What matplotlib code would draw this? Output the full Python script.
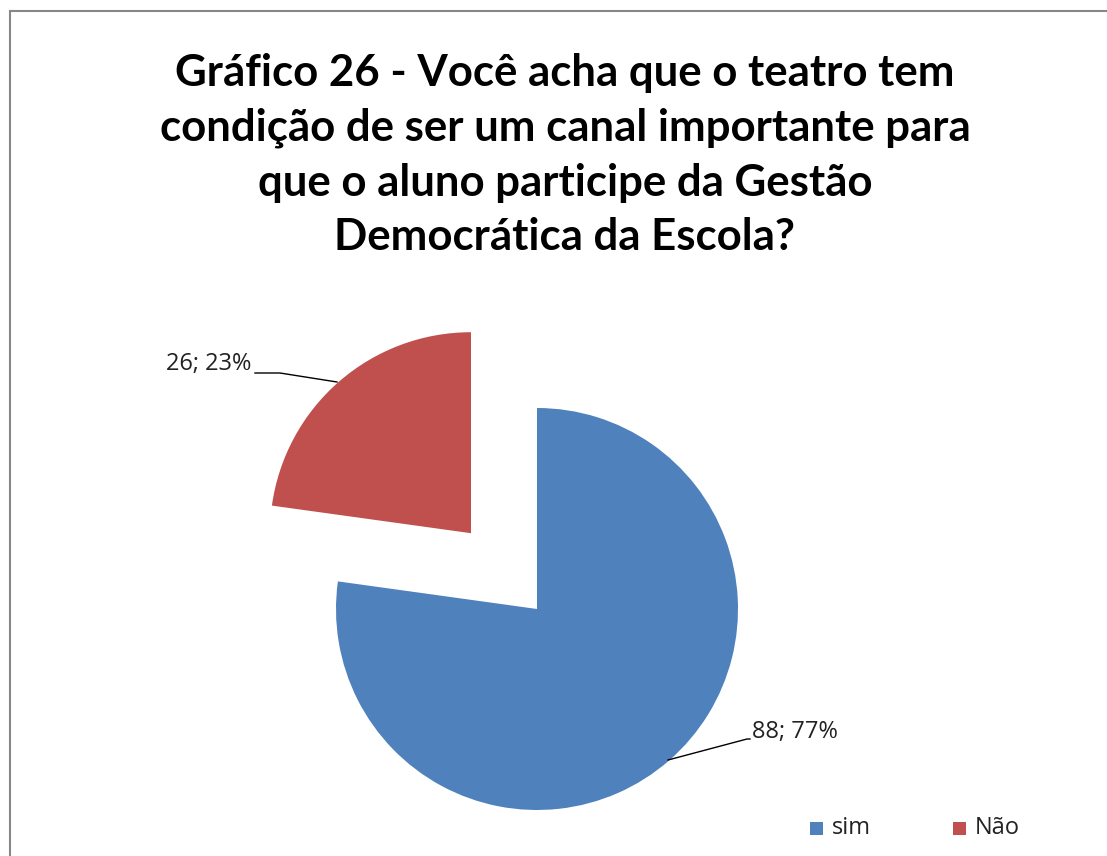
import matplotlib.pyplot as plt
from matplotlib.patches import Rectangle

# dados
categorias = ['sim', 'Não']
valores = [88, 26]
cores = ['#4F81BD', '#C0504D']

titulo = ('Gráfico 26 - Você acha que o teatro tem\n'
          'condição de ser um canal importante para\n'
          'que o aluno participe da Gestão\n'
          'Democrática da Escola?')

W, H = 1107, 856
R = 201
fig = plt.figure(figsize=(W / 100, H / 100), dpi=100)
ax = fig.add_axes([0, 0, 1, 1])

# moldura cinza (sai pela direita e por baixo)
ax.add_patch(Rectangle((9.5, -10), W + 20, H - 11 + 10, facecolor='none',
                       edgecolor='#878787', linewidth=1.5))

ax.text(565, H - 155, titulo, ha='center', va='center', fontsize=31.5,
        weight='bold', family='Lato', linespacing=1.44)

total = sum(valores)
# explode em unidades de dados (pixels): metade do raio para a fatia "Não"
wedges, _ = ax.pie(valores, colors=cores, explode=[0, 0.5 * R], startangle=90,
                   counterclock=False, center=(537, H - 609), radius=R,
                   frame=True, wedgeprops=dict(linewidth=0))
ax.set_xlim(0, W)
ax.set_ylim(0, H)
ax.set_aspect('equal')
ax.axis('off')

rotulos = ['%d; %d%%' % (v, round(100 * v / total)) for v in valores]

# rótulo sim
ax.plot([668, 747, 750], [H - 760, H - 739, H - 739], color='black', lw=1)
ax.text(752, H - 732, rotulos[0], ha='left', va='center', fontsize=17,
        family='Open Sans', color='#222222')
# rótulo Não
ax.plot([255, 280, 337], [H - 373, H - 373, H - 382], color='black', lw=1)
ax.text(251, H - 364, rotulos[1], ha='right', va='center', fontsize=17,
        family='Open Sans', color='#222222')

# legenda
for x0, cat, cor in [(810, categorias[0], cores[0]), (953, categorias[1], cores[1])]:
    ax.add_patch(Rectangle((x0, H - 835), 13, 13, facecolor=cor, edgecolor='none'))
    ax.text(x0 + 22, H - 828, cat, ha='left', va='center', fontsize=17,
            family='Open Sans', color='#222222')

fig.savefig('out.png', dpi=100)
